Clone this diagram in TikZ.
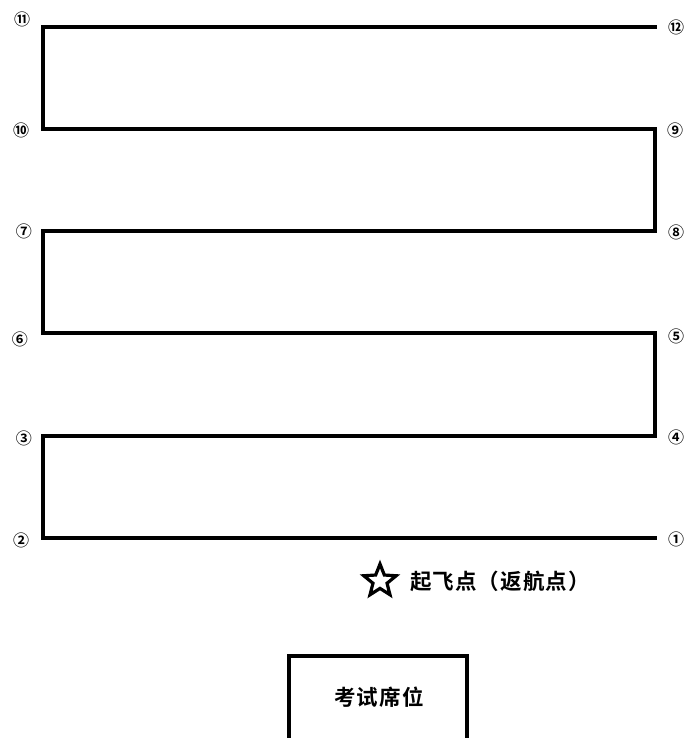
\documentclass[tikz,border=0pt]{standalone}
\usepackage{fontspec}
\setmainfont{DejaVu Sans}
\newfontfamily\cjk{Noto Sans CJK SC Bold}
\newfontfamily\cjkbold{Noto Sans CJK SC Bold}
\usetikzlibrary{shapes.geometric}
\begin{document}
\begin{tikzpicture}[x=1pt,y=-1pt,
  route/.style={line width=3.6pt,line join=miter,line cap=rect},
  num/.style={font=\cjk\fontsize{16}{16}\selectfont,inner sep=0pt},
  cjklabel/.style={font=\cjkbold\fontsize{21.5}{22}\selectfont\addfontfeature{LetterSpace=5},inner sep=0pt}]
\useasboundingbox (0,0) rectangle (689,738);
% route corners
\coordinate (c1) at (655,538);
\coordinate (c2) at (43,538);
\coordinate (c3) at (43,436);
\coordinate (c4) at (655,436);
\coordinate (c5) at (655,333);
\coordinate (c6) at (43,333);
\coordinate (c7) at (43,231);
\coordinate (c8) at (655,231);
\coordinate (c9) at (655,129);
\coordinate (c10) at (43,129);
\coordinate (c11) at (43,27);
\coordinate (c12) at (655,27);
\draw[route] (c1) -- (c2) -- (c3) -- (c4) -- (c5) -- (c6) -- (c7) -- (c8) -- (c9) -- (c10) -- (c11) -- (c12);
% labels
\node[num] (n1) at (676,539) {①};
\node[num] (n2) at (21,540) {②};
\node[num] (n3) at (24,438) {③};
\node[num] (n4) at (676,437) {④};
\node[num] (n5) at (676,336) {⑤};
\node[num] (n6) at (20,339) {⑥};
\node[num] (n7) at (24,231) {⑦};
\node[num] (n8) at (676,232) {⑧};
\node[num] (n9) at (675,130) {⑨};
\node[num] (n10) at (21,130) {⑩};
\node[num] (n11) at (22,19) {⑪};
\node[num] (n12) at (676,27) {⑫};
% take-off point
\node[star,star points=5,star point ratio=2.3,draw,line width=3.2pt,minimum size=34pt,inner sep=0pt] (star) at (380,581) {};
\node[cjklabel,anchor=west] (takeoff) at (410,581) {起飞点（返航点）};
% seat box
\draw[line width=3.6pt] (289,748) |- (467,656) -- (467,748);
\node[cjklabel] (seat) at (379,697) {考试席位};
\end{tikzpicture}
\end{document}
